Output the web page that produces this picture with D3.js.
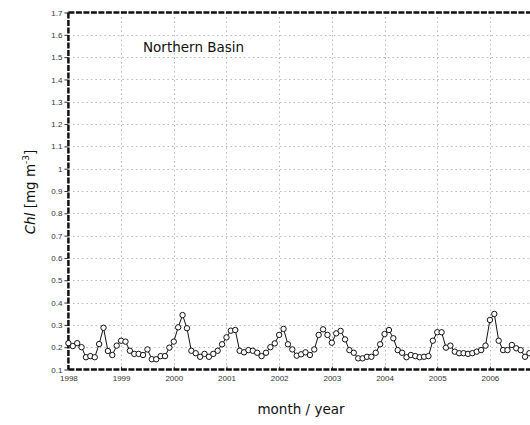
<!DOCTYPE html>
<html><head><meta charset="utf-8">
<script src="https://cdn.jsdelivr.net/npm/d3@7"></script>
<style>body{margin:0;background:#fff;overflow:hidden}svg{display:block}</style>
</head><body><svg id="c" width="530" height="425"></svg>
<script>
const years = [1998,1999,2000,2001,2002,2003,2004,2005,2006];
const yearLabels = ["1998","1999","2000","2001","2002","2003","2004","2005","2006"];
const yTicks = [0.1,0.2,0.3,0.4,0.5,0.6,0.7,0.8,0.9,1,1.1,1.2,1.3,1.4,1.5,1.6,1.7];
const yTickLabels = ["0.1","0.2","0.3","0.4","0.5","0.6","0.7","0.8","0.9","1","1.1","1.2","1.3","1.4","1.5","1.6","1.7"];
const startYear = 1998;
// monthly chlorophyll values from Jan 1998
const chl = [
0.218,0.205,0.218,0.200,0.155,0.160,0.155,0.214,0.287,0.183,0.165,0.207,
0.229,0.225,0.184,0.170,0.170,0.165,0.190,0.146,0.146,0.160,0.160,0.198,
0.225,0.289,0.344,0.285,0.184,0.173,0.157,0.170,0.157,0.170,0.184,0.213,
0.244,0.274,0.277,0.184,0.177,0.187,0.184,0.175,0.160,0.175,0.200,0.217,
0.255,0.282,0.213,0.190,0.162,0.168,0.177,0.165,0.190,0.255,0.280,0.255,
0.220,0.262,0.273,0.235,0.187,0.175,0.150,0.150,0.157,0.157,0.175,0.213,
0.259,0.277,0.240,0.187,0.175,0.155,0.165,0.160,0.155,0.157,0.160,0.229,
0.267,0.267,0.198,0.207,0.180,0.173,0.173,0.170,0.173,0.180,0.187,0.207,
0.322,0.349,0.229,0.187,0.187,0.210,0.195,0.187,0.157,0.173
];
const title = "Northern Basin";
const xTitle = "month / year";

const svg = d3.select("#c");
const x = d3.scaleLinear().domain([1998, 2007]).range([68.4, 542.6]);
const y = d3.scaleLinear().domain([0.1, 1.7]).range([369.5, 12.5]);
const data = chl.map((v,i)=>({t: startYear + i/12, v}));
const xEnd = 540;

// grid
const grid = svg.append("g").attr("stroke","#b8b8b8").attr("stroke-width",1).attr("stroke-dasharray","1.5,3");
grid.selectAll("line.h").data(yTicks.slice(1,-1)).join("line")
  .attr("x1",x(1998)).attr("x2",xEnd).attr("y1",d=>Math.round(y(d))+0.5).attr("y2",d=>Math.round(y(d))+0.5);
grid.selectAll("line.v").data(years.slice(1)).join("line")
  .attr("y1",y(1.7)).attr("y2",y(0.1)).attr("x1",d=>Math.round(x(d))+0.5).attr("x2",d=>Math.round(x(d))+0.5);

// y axis
const yAxis = d3.axisLeft(y).tickValues(yTicks).tickFormat((d,i)=>yTickLabels[i]).tickSize(4).tickPadding(2);
const gy = svg.append("g").attr("transform",`translate(${x(1998)},0)`).call(yAxis);
gy.select(".domain").remove();
gy.selectAll("text").attr("font-family","Liberation Sans, Arial, sans-serif").attr("font-size",8).attr("fill","#333");
gy.selectAll("line").attr("stroke","#333");

// x axis
const xAxis = d3.axisBottom(x).tickValues(years).tickFormat((d,i)=>yearLabels[i]).tickSize(0).tickPadding(6);
const gx = svg.append("g").attr("transform",`translate(0,${y(0.1)})`).call(xAxis);
gx.select(".domain").remove();
gx.selectAll("text").attr("font-family","Liberation Sans, Arial, sans-serif").attr("font-size",8).attr("fill","#333");
gx.selectAll(".tick").append("line").attr("y1",0).attr("y2",-3).attr("stroke","#333");

// frame
const frame = svg.append("g").attr("stroke","#111").attr("stroke-width",2.5).attr("stroke-dasharray","6,1.5");
frame.append("line").attr("x1",x(1998)).attr("x2",xEnd).attr("y1",y(1.7)).attr("y2",y(1.7));
frame.append("line").attr("x1",x(1998)).attr("x2",xEnd).attr("y1",y(0.1)).attr("y2",y(0.1));
frame.append("line").attr("x1",x(1998)).attr("x2",x(1998)).attr("y1",y(1.7)).attr("y2",y(0.1));

// data
svg.append("path").datum(data).attr("fill","none").attr("stroke","#111").attr("stroke-width",1)
  .attr("d", d3.line().x(d=>x(d.t)).y(d=>y(d.v)));
svg.append("g").selectAll("circle").data(data).join("circle")
  .attr("cx",d=>x(d.t)).attr("cy",d=>y(d.v)).attr("r",2.7)
  .attr("fill","#fff").attr("stroke","#111").attr("stroke-width",1);

// texts
svg.append("text").attr("x",143).attr("y",52).attr("font-family","DejaVu Sans, sans-serif").attr("font-size",13.5).attr("fill","#111").text(title);
svg.append("text").attr("x",301).attr("y",414).attr("text-anchor","middle").attr("font-family","DejaVu Sans, sans-serif").attr("font-size",13.5).attr("fill","#111").text(xTitle);
const yl = svg.append("text").attr("transform","translate(35,192) rotate(-90)").attr("text-anchor","middle")
  .attr("font-family","DejaVu Sans, sans-serif").attr("font-size",13.5).attr("fill","#111");
yl.append("tspan").attr("font-style","italic").text("Chl");
yl.append("tspan").text("  [mg m");
yl.append("tspan").attr("font-size",9).attr("dy",-6).text("-3");
yl.append("tspan").attr("dy",6).text("]");
</script></body></html>
